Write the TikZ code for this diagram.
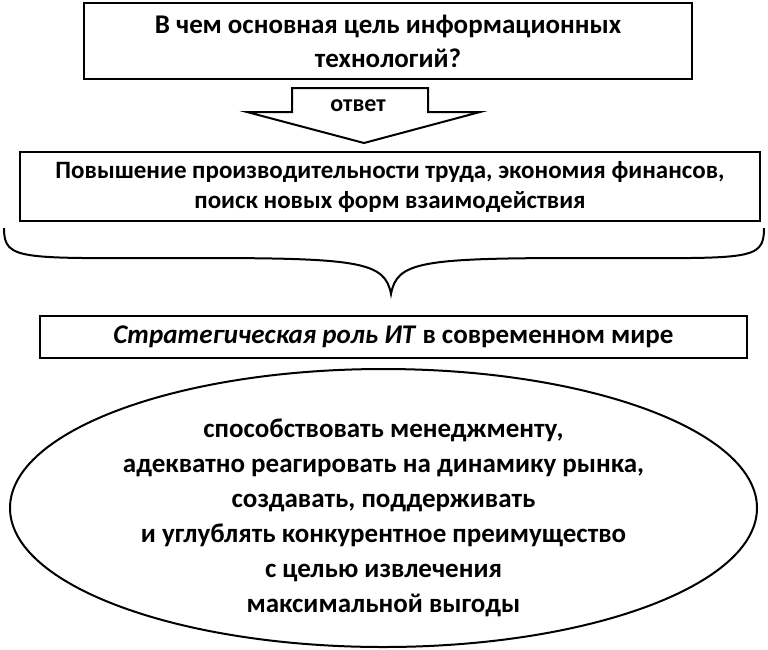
\documentclass[tikz,border=0pt]{standalone}
\usepackage{fontspec}
\setmainfont{Carlito}
\usetikzlibrary{shapes.geometric}
\tikzset{
  box/.style={draw, line width=2pt, minimum height=#1, align=center, inner sep=0pt},
  oval/.style={ellipse, draw, line width=2pt, minimum width=747pt, minimum height=278pt, align=center, inner sep=0pt, font=\bfseries\fontsize{27}{35}\selectfont}
}
\begin{document}
\begin{tikzpicture}[x=1pt,y=-1pt]
\useasboundingbox (0,0) rectangle (768,649);
% boxes
\node[box=76pt, minimum width=608pt, font=\bfseries\fontsize{27}{34}\selectfont] (question) at (388,41) {В чем основная цель информационных\\технологий?};
\node[box=69pt, minimum width=740pt, font=\bfseries\fontsize{25}{30}\selectfont] (result) at (390,186.5) {Повышение производительности труда, экономия финансов,\\поиск новых форм взаимодействия};
\node[box=42pt, minimum width=707pt, font=\bfseries\fontsize{27}{30}\selectfont] (role) at (393.5,337) {\textit{Стратегическая роль ИТ} в современном мире};
\node[oval] (aims) at (383.5,508) {};
\node[align=center, font=\bfseries\fontsize{27}{35}\selectfont] (aimstext) at (383.5,518) {способствовать менеджменту,\\адекватно реагировать на динамику рынка,\\создавать, поддерживать\\и углублять конкурентное преимущество\\с целью извлечения\\максимальной выгоды};
% block arrow
\draw[line width=2pt, line join=miter] (292,88) -- (428,88) -- (428,112) -- (480,112) -- (364,143) -- (247,112) -- (292,112) -- cycle;
\node[font=\bfseries\fontsize{24}{26}\selectfont] (answer) at (358,106) {ответ};
% brace
\draw[line width=2pt] (4,228) .. controls (4,262) and (20,258) .. (200,258)
  .. controls (360,258) and (385,262) .. (391,294)
  .. controls (397,262) and (420,258) .. (580,258)
  .. controls (750,258) and (764,262) .. (764,228);
\end{tikzpicture}
\end{document}
